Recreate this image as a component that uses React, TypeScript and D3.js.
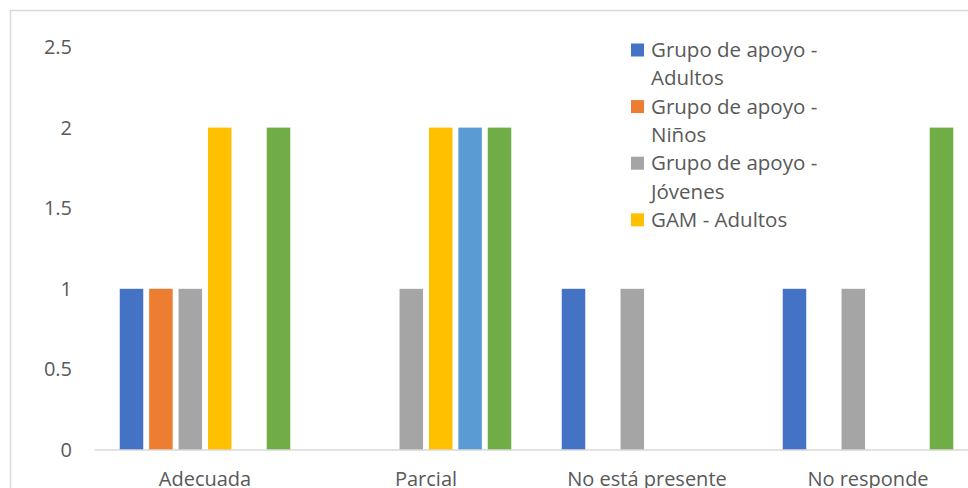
import React from "react";
import * as d3 from "d3";

const categories = ["Adecuada", "Parcial", "No está presente", "No responde"];
const seriesNames = [
  "Grupo de apoyo - Adultos",
  "Grupo de apoyo - Niños",
  "Grupo de apoyo - Jóvenes",
  "GAM - Adultos",
  "GAM - Niños",
  "GAM - Jóvenes",
];
// values per series, in category order
const adultos = [1, 0, 1, 1];
const ninos = [1, 0, 0, 0];
const jovenes = [1, 1, 1, 1];
const gamAdultos = [2, 2, 0, 0];
const gamNinos = [0, 2, 0, 0];
const gamJovenes = [2, 2, 0, 2];
const seriesValues = [adultos, ninos, jovenes, gamAdultos, gamNinos, gamJovenes];
const colors = ["#4472C4", "#ED7D31", "#A5A5A5", "#FFC000", "#5B9BD5", "#70AD47"];
const yTicks = [0, 0.5, 1, 1.5, 2, 2.5];
// legend shows only the first four, as the original does (box is cut)
const legendLines = [
  ["Grupo de apoyo -", "Adultos"],
  ["Grupo de apoyo -", "Niños"],
  ["Grupo de apoyo -", "Jóvenes"],
  ["GAM - Adultos"],
];

const W = 968;
const H = 488;
const font = "'Open Sans', sans-serif";
const textColor = "#595959";

export default function App() {
  const y = d3.scaleLinear().domain([0, 2.5]).range([450, 47]);
  const x0 = d3.scaleBand().domain(categories).range([94.5, 978.5]).padding(0);
  const groupW = 176.4;
  const x1 = d3
    .scaleBand()
    .domain(seriesNames)
    .range([0, groupW])
    .paddingInner(0.2)
    .paddingOuter(0.1);
  const groupOff = (x0.bandwidth() - groupW) / 2;

  let legendY = 50;
  const legendItems = legendLines.map((lines, i) => {
    const top = legendY;
    legendY += lines.length * 28.3;
    return (
      <g key={i}>
        <rect x={631} y={top - 6.5} width={13} height={13} fill={colors[i]} />
        {lines.map((t, j) => (
          <text
            key={j}
            x={651}
            y={top + j * 28.3}
            dy="0.35em"
            fontSize={20.5}
            fill={textColor}
            fontFamily={font}
          >
            {t}
          </text>
        ))}
      </g>
    );
  });

  return (
    <div style={{ position: "fixed", left: 0, top: 0 }}>
      <svg width={W} height={H} style={{ display: "block", background: "#fff" }}>
        <rect x={10.5} y={10.5} width={1000} height={1000} fill="#fff" stroke="#d9d9d9" strokeWidth={1.5} />

        {yTicks.map((t) => (
          <text
            key={t}
            x={72}
            y={y(t)}
            dy="0.35em"
            textAnchor="end"
            fontSize={20}
            fill={textColor}
            fontFamily={font}
          >
            {t}
          </text>
        ))}

        {categories.map((c, ci) => (
          <g key={c} transform={`translate(${(x0(c) as number) + groupOff},0)`}>
            {seriesNames.map((s, si) => {
              const v = seriesValues[si][ci];
              if (!v) return null;
              return (
                <rect
                  key={s}
                  x={x1(s)}
                  y={y(v)}
                  width={x1.bandwidth()}
                  height={y(0) - y(v)}
                  fill={colors[si]}
                />
              );
            })}
          </g>
        ))}

        <line x1={94.5} x2={W} y1={y(0)} y2={y(0)} stroke="#d9d9d9" strokeWidth={1.5} />

        {categories.map((c) => (
          <text
            key={c}
            x={(x0(c) as number) + x0.bandwidth() / 2}
            y={486}
            textAnchor="middle"
            fontSize={20}
            fill={textColor}
            fontFamily={font}
          >
            {c}
          </text>
        ))}

        {legendItems}
      </svg>
    </div>
  );
}
